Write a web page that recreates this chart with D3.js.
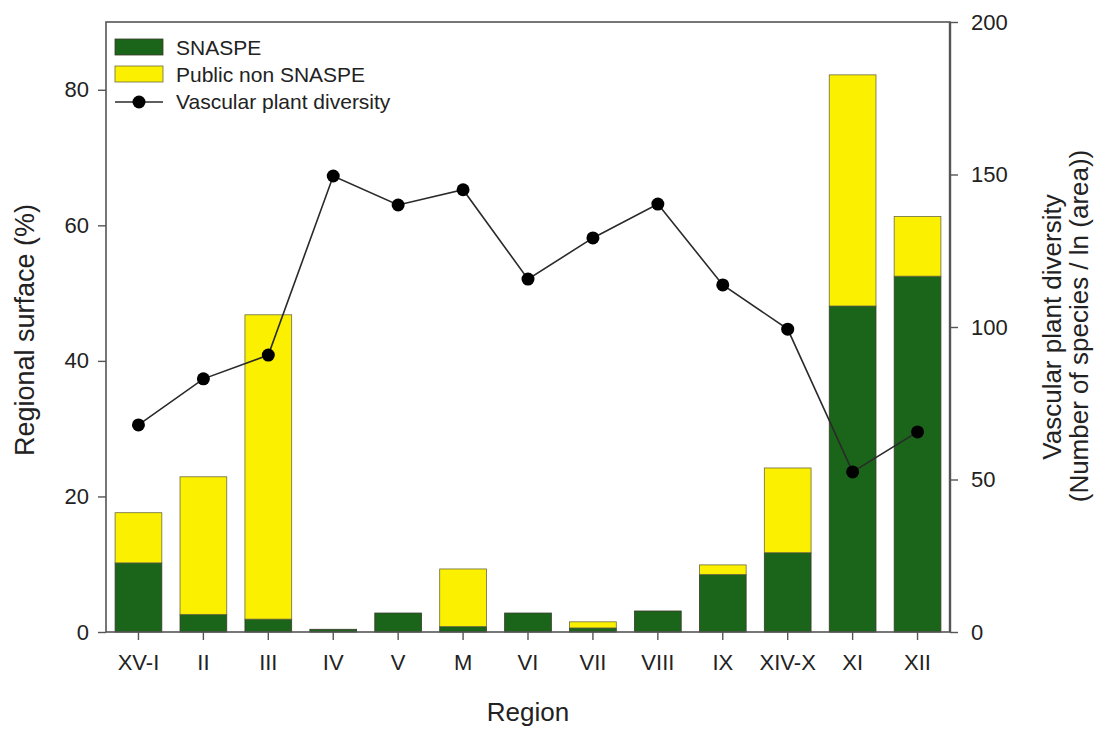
<!DOCTYPE html>
<html><head><meta charset="utf-8">
<script src="https://cdn.jsdelivr.net/npm/d3@7"></script>
<style>body{margin:0;background:#fff}svg{font-family:"Liberation Sans",Arial,sans-serif}</style>
</head><body><svg id="c" width="1097" height="730"></svg>
<script>
const regions = ["XV-I","II","III","IV","V","M","VI","VII","VIII","IX","XIV-X","XI","XII"];
const snaspe = [10.2,2.6,1.9,0.4,2.8,0.8,2.8,0.6,3.1,8.5,11.7,48.1,52.5];
const publicNon = [7.4,20.3,44.9,0,0,8.5,0,0.9,0,1.4,12.5,34.1,8.8];
const diversity = [67.9,83,90.8,149.5,140,145,115.7,129.2,140.3,113.8,99.3,52.5,65.6];
const leftTicks = [0,20,40,60,80];
const rightTicks = [0,50,100,150,200];

const svg = d3.select("#c");
const m = {l:106, r:950, t:22, b:632};
const x = d3.scaleBand().domain(regions).range([m.l, m.r]).paddingInner(0.28).paddingOuter(0.14);
const yL = d3.scaleLinear().domain([0,90]).range([m.b, m.t]);
const yR = d3.scaleLinear().domain([0,200]).range([m.b, m.t]);
const green = "#1b651b", yellow = "#fbf000";

// bars
const g = svg.append("g");
regions.forEach((r,i)=>{
  const s = snaspe[i], p = publicNon[i];
  g.append("rect").attr("x", x(r)).attr("width", x.bandwidth())
    .attr("y", yL(s)).attr("height", yL(0)-yL(s))
    .attr("fill", green).attr("stroke","#3a3a2a").attr("stroke-width",0.8);
  if (p>0) g.append("rect").attr("x", x(r)).attr("width", x.bandwidth())
    .attr("y", yL(s+p)).attr("height", yL(s)-yL(s+p))
    .attr("fill", yellow).attr("stroke","#6b6b40").attr("stroke-width",0.8);
});

// line
const cx = r => x(r)+x.bandwidth()/2;
svg.append("path").datum(diversity)
  .attr("d", d3.line().x((d,i)=>cx(regions[i])).y(d=>yR(d)))
  .attr("fill","none").attr("stroke","#2a2a2a").attr("stroke-width",1.6);
svg.selectAll("circle.pt").data(diversity).join("circle").attr("class","pt")
  .attr("cx",(d,i)=>cx(regions[i])).attr("cy",d=>yR(d)).attr("r",6.5).attr("fill","#000");

// frame
svg.append("rect").attr("x",m.l).attr("y",m.t).attr("width",m.r-m.l).attr("height",m.b-m.t)
  .attr("fill","none").attr("stroke","#555").attr("stroke-width",1.6);
svg.append("line").attr("x1",m.r).attr("x2",m.r).attr("y1",m.t).attr("y2",m.b)
  .attr("stroke","#555").attr("stroke-width",2.4);

// axes
const axStyle = sel => { sel.select(".domain").remove(); sel.selectAll("line").attr("stroke","#555").attr("stroke-width",1.4);
  sel.selectAll("text").attr("font-size",22).attr("fill","#222").attr("font-family","Liberation Sans, Arial, sans-serif"); };
svg.append("g").attr("transform",`translate(${m.l},0)`)
  .call(d3.axisLeft(yL).tickValues(leftTicks).tickSize(8).tickPadding(9)).call(axStyle);
svg.append("g").attr("transform",`translate(${m.r},0)`)
  .call(d3.axisRight(yR).tickValues(rightTicks).tickSize(8).tickPadding(13)).call(axStyle);
svg.append("g").attr("transform",`translate(0,${m.b})`)
  .call(d3.axisBottom(x).tickSize(8).tickPadding(14)).call(axStyle);

// titles
svg.append("text").attr("transform","translate(34,330) rotate(-90)").attr("text-anchor","middle")
  .attr("font-size",27).attr("fill","#222").text("Regional surface (%)");
svg.append("text").attr("transform","translate(1061,327) rotate(-90)").attr("text-anchor","middle")
  .attr("font-size",26).attr("fill","#222").text("Vascular plant diversity");
svg.append("text").attr("transform","translate(1088,326) rotate(-90)").attr("text-anchor","middle")
  .attr("font-size",26).attr("fill","#222").text("(Number of species / ln (area))");
svg.append("text").attr("x",528).attr("y",721).attr("text-anchor","middle")
  .attr("font-size",26).attr("fill","#222").text("Region");

// legend
const lg = svg.append("g");
lg.append("rect").attr("x",115).attr("y",39).attr("width",48).attr("height",16).attr("fill",green).attr("stroke","#3a3a2a").attr("stroke-width",0.8);
lg.append("rect").attr("x",115).attr("y",66).attr("width",48).attr("height",16).attr("fill",yellow).attr("stroke","#6b6b40").attr("stroke-width",0.8);
lg.append("line").attr("x1",115).attr("x2",163).attr("y1",102).attr("y2",102).attr("stroke","#2a2a2a").attr("stroke-width",1.6);
lg.append("circle").attr("cx",139).attr("cy",102).attr("r",6.5).attr("fill","#000");
[["SNASPE",55],["Public non SNASPE",82],["Vascular plant diversity",109]].forEach(([t,y])=>{
  lg.append("text").attr("x",176).attr("y",y).attr("font-size",21).attr("fill","#222").text(t);
});
</script></body></html>
